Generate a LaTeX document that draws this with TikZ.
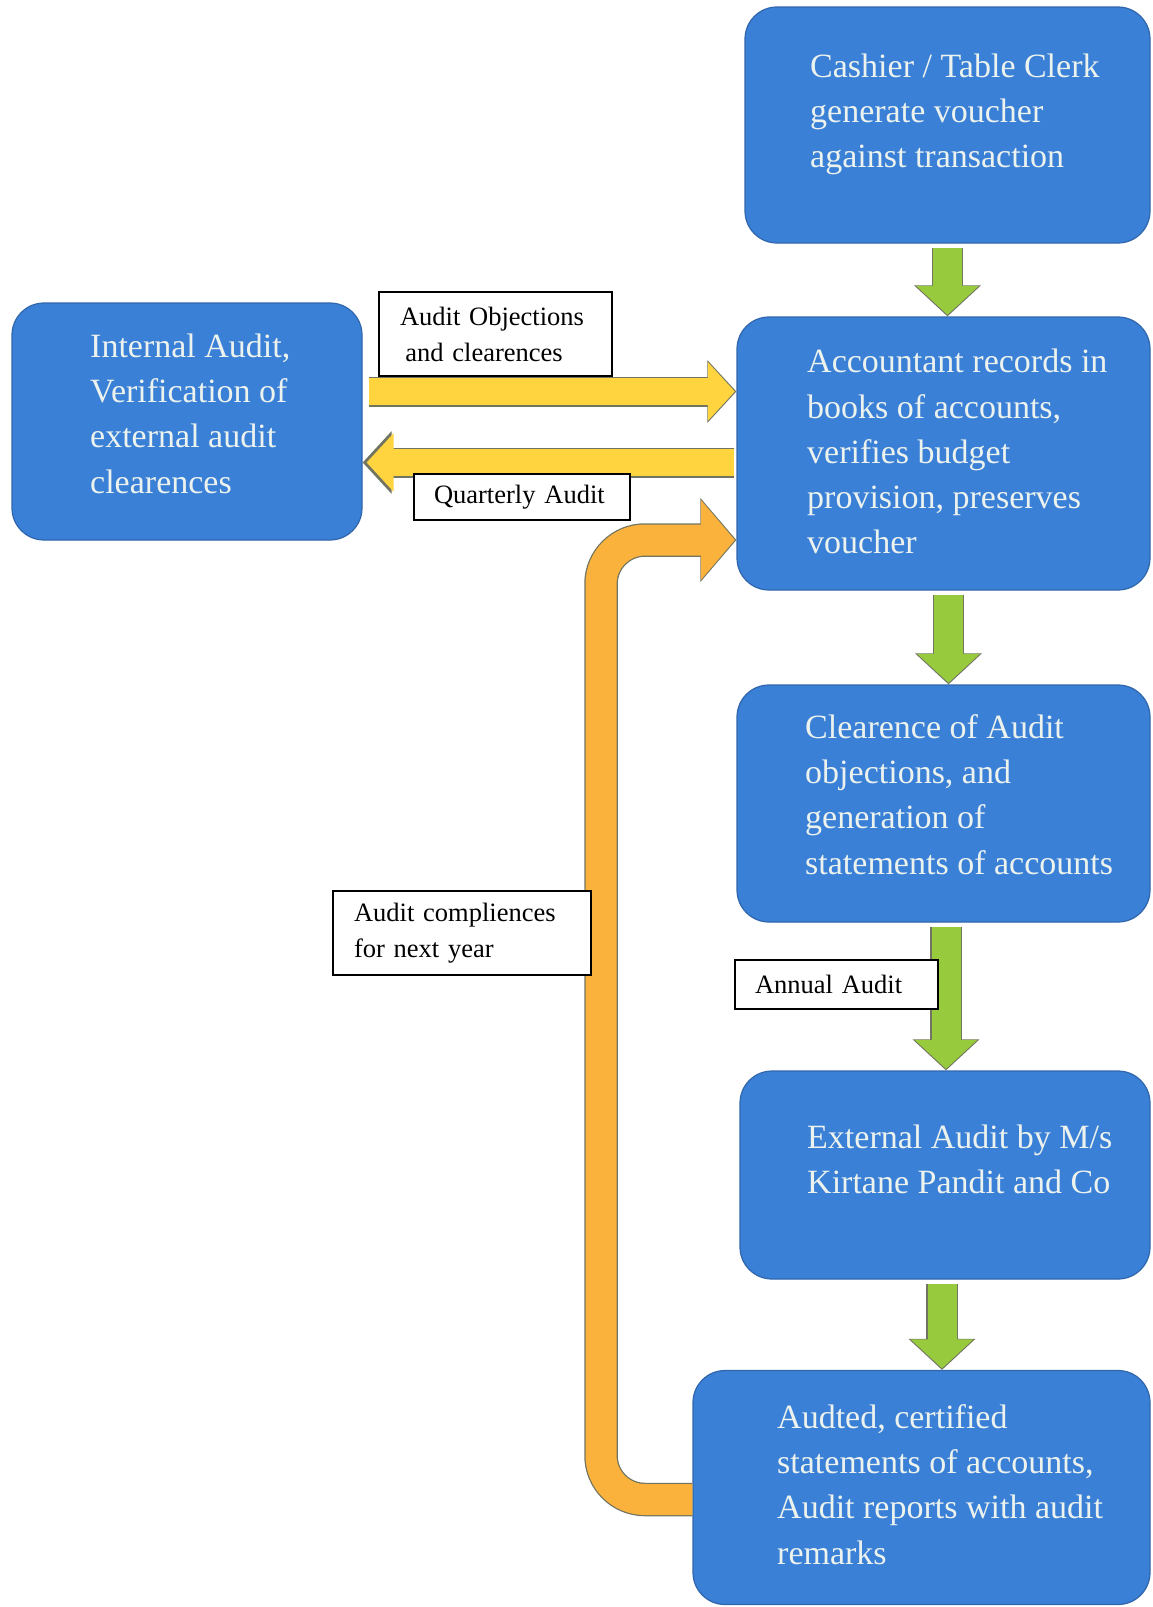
\documentclass[tikz,border=0pt]{standalone}
\usepackage{fontspec}
\setmainfont{Liberation Serif}
\usetikzlibrary{arrows.meta}
\definecolor{boxblue}{RGB}{58,128,214}
\definecolor{boxedge}{RGB}{48,102,172}
\definecolor{boxtext}{RGB}{236,242,238}
\definecolor{arrowgreen}{RGB}{152,202,62}
\definecolor{arrowyellow}{RGB}{255,212,62}
\definecolor{arroworange}{RGB}{251,178,60}
\definecolor{arrowedge}{RGB}{112,116,96}
\begin{document}
\begin{tikzpicture}[x=1pt,y=-1pt,
  blockbox/.style={rectangle,rounded corners=32pt,fill=boxblue,draw=boxedge,line width=1.2pt,inner sep=0pt},
  blocktext/.style={anchor=north west,inner sep=0pt,align=left,text=boxtext,font=\fontsize{34}{45.3}\selectfont},
  labelbox/.style={draw=black,fill=white,line width=1.3pt,align=left,inner ysep=0pt,font=\fontsize{26.5}{36}\selectfont},
  greenarrow/.style={draw=arrowgreen,line width=29pt,shorten >=1.5pt,shorten <=4pt,-{Triangle[length=29pt,width=61pt]},
    preaction={draw=arrowedge,line width=31.5pt,shorten >=0pt,shorten <=4pt,-{Triangle[length=31pt,width=65pt]}}},
  yellowarrow/.style={draw=arrowyellow,line width=27.5pt,shorten >=1.5pt,-{Triangle[length=27pt,width=57pt]},
    preaction={draw=arrowedge,line width=30pt,shorten >=0pt,-{Triangle[length=29pt,width=61pt]}}},
  orangearrow/.style={draw=arroworange,line width=31pt,rounded corners=44pt,shorten >=1.5pt,-{Triangle[length=34pt,width=78pt]},
    preaction={draw=arrowedge,line width=33.5pt,shorten >=0pt,-{Triangle[length=36pt,width=82pt]}}}]
\useasboundingbox (0,0) rectangle (1152,1607);
% blue process boxes
\node[blockbox,minimum width=405pt,minimum height=236pt] (cashier) at (947.5,125) {};
\node[blockbox,minimum width=413pt,minimum height=273pt] (accountant) at (943.5,453.5) {};
\node[blockbox,minimum width=413pt,minimum height=237pt] (clearence) at (943.5,803.5) {};
\node[blockbox,minimum width=410pt,minimum height=208pt] (external) at (945,1175) {};
\node[blockbox,minimum width=457pt,minimum height=234pt] (audited) at (921.5,1487.5) {};
\node[blockbox,minimum width=350pt,minimum height=237pt] (internal) at (187,421.5) {};
% texts of the boxes
\node[blocktext] (cashiertext) at (810,45.3) {\strut Cashier / Table Clerk\\generate voucher\\against transaction};
\node[blocktext] (accountanttext) at (807,340.8) {\strut Accountant records in\\books of accounts,\\verifies budget\\provision, preserves\\voucher};
\node[blocktext] (clearencetext) at (805,706.3) {\strut Clearence of Audit\\objections, and\\generation of\\statements of accounts};
\node[blocktext] (externaltext) at (807,1116.3) {\strut External Audit by M/s\\Kirtane Pandit and Co};
\node[blocktext] (auditedtext) at (777,1396.3) {\strut Audted, certified\\statements of accounts,\\Audit reports with audit\\remarks};
\node[blocktext] (internaltext) at (90,325.3) {\strut Internal Audit,\\Verification of\\external audit\\clearences};
% block arrows
\draw[greenarrow] (cashier.south) -- (cashier.south |- accountant.north);
\draw[greenarrow] ([xshift=5pt]accountant.south) -- ([xshift=5pt]accountant.south |- clearence.north);
\draw[greenarrow] ([xshift=2.5pt]clearence.south) -- ([xshift=2.5pt]clearence.south |- external.north);
\draw[greenarrow] ([xshift=-3pt]external.south) -- ([xshift=-3pt]external.south |- audited.north);
\draw[yellowarrow,shorten <=6pt] ([yshift=30pt]internal.east) -- ([yshift=30pt]internal.east -| accountant.west);
\draw[yellowarrow,shorten <=2pt,shorten >=4pt] ([yshift=-9pt]accountant.west) -- ([yshift=-9pt]accountant.west -| internal.east);
\coordinate (bend) at (601,540);
\draw[orangearrow] ([yshift=-12pt]audited.west) -| (bend) -- (bend -| accountant.west);
% labels
\node[labelbox,text width=191pt,inner xsep=21pt,minimum height=84pt] (objections) at (495.5,334) {Audit Objections\\\hspace*{0.2em}and clearences};
\node[labelbox,text width=176pt,inner xsep=20pt,minimum height=46pt] (quarterly) at (522,497) {Quarterly Audit};
\node[labelbox,text width=216pt,inner xsep=21pt,minimum height=84pt] (compliences) at (462,933) {Audit compliences\\for next year};
\node[labelbox,text width=163pt,inner xsep=20pt,minimum height=49pt] (annual) at (836.5,984.5) {Annual Audit};
\end{tikzpicture}
\end{document}
